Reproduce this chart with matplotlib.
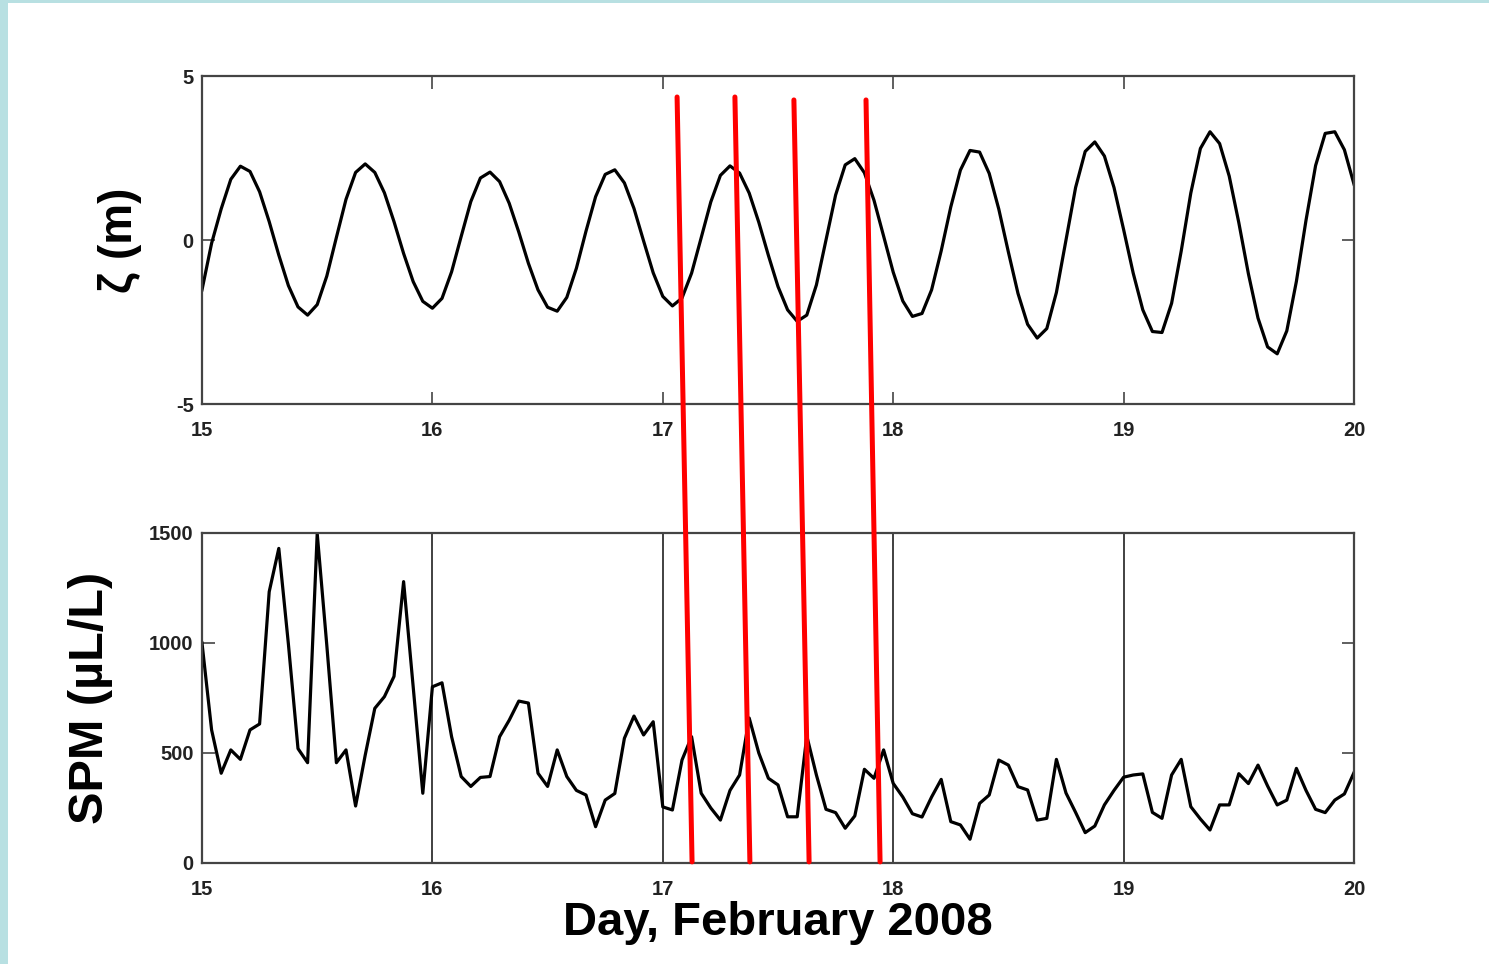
import matplotlib
matplotlib.use("Agg")
import matplotlib.pyplot as plt
from matplotlib.patches import ConnectionPatch, Rectangle
import numpy as np

# ---------------- data ----------------
start_day = 15.0
step_day = 1.0 / 24.0  # hourly samples

zeta = [
    -1.52, -0.10, 0.95, 1.85, 2.25, 2.09, 1.47, 0.56, -0.46, -1.39,
    -2.04, -2.29, -1.97, -1.10, 0.08, 1.24, 2.06, 2.32, 2.06, 1.44,
    0.56, -0.41, -1.27, -1.87, -2.08, -1.78, -0.97, 0.11, 1.17, 1.89,
    2.07, 1.78, 1.12, 0.24, -0.71, -1.52, -2.05, -2.17, -1.75, -0.86,
    0.27, 1.32, 2.00, 2.14, 1.74, 0.96, -0.03, -1.00, -1.72, -2.01,
    -1.77, -1.01, 0.07, 1.16, 1.97, 2.26, 2.04, 1.43, 0.54, -0.47,
    -1.42, -2.13, -2.48, -2.29, -1.37, 0.00, 1.37, 2.29, 2.48, 2.05,
    1.21, 0.12, -0.98, -1.86, -2.33, -2.24, -1.52, -0.33, 1.01, 2.13,
    2.73, 2.68, 2.03, 0.94, -0.37, -1.63, -2.57, -2.99, -2.70, -1.60,
    0.00, 1.60, 2.70, 2.99, 2.56, 1.60, 0.32, -1.01, -2.13, -2.79,
    -2.82, -1.93, -0.34, 1.43, 2.79, 3.30, 2.94, 1.95, 0.53, -1.03,
    -2.38, -3.26, -3.47, -2.77, -1.26, 0.60, 2.27, 3.25, 3.30, 2.75,
    1.70,
]

spm = [
    1000, 605, 408, 514, 471, 605, 632, 1233, 1430, 995,
    520, 456, 1498, 990, 456, 514, 259, 490, 703, 756,
    848, 1279, 800, 317, 801, 819, 574, 393, 348, 389,
    393, 574, 649, 736, 727, 408, 348, 514, 393, 330,
    309, 165, 286, 316, 567, 668, 582, 642, 255, 241,
    468, 574, 317, 250, 195, 330, 400, 659, 500, 385,
    355, 210, 210, 577, 400, 244, 229, 158, 214, 426,
    385, 514, 362, 300, 224, 209, 300, 380, 188, 173,
    108, 271, 309, 468, 445, 347, 332, 195, 203, 471,
    318, 230, 138, 168, 264, 330, 390, 400, 405, 230,
    203, 400, 471, 256, 200, 150, 264, 264, 406, 361,
    445, 350, 264, 286, 430, 330, 244, 229, 286, 314,
    411,
]

days = start_day + step_day * np.arange(len(zeta))

x_ticks = [15, 16, 17, 18, 19, 20]
zeta_ticks = [-5, 0, 5]
spm_ticks = [0, 500, 1000, 1500]

# red marker lines: (day, value) at top in the zeta panel -> (day, value) at bottom in SPM panel
red_top_day = [17.062, 17.313, 17.569, 17.882]
red_top_zeta = [4.36, 4.36, 4.27, 4.27]
red_bot_day = [17.127, 17.378, 17.635, 17.943]
red_bot_spm = [5, 5, 5, 5]

# ---------------- figure ----------------
plt.rcParams['axes.unicode_minus'] = False
plt.rcParams['font.family'] = ['Liberation Sans', 'DejaVu Sans']

fig = plt.figure(figsize=(14.89, 9.64), dpi=100)
fig.patch.set_facecolor('white')

# light blue frame strips
fig.add_artist(Rectangle((0, 0), 8 / 1489, 1, transform=fig.transFigure,
                         facecolor='#B8E0E2', edgecolor='none', zorder=0))
fig.add_artist(Rectangle((0, 1 - 3 / 964), 1, 3 / 964, transform=fig.transFigure,
                         facecolor='#B8E0E2', edgecolor='none', zorder=0))

left = 202 / 1489
width = (1354 - 202) / 1489
ax1 = fig.add_axes([left, 1 - 404 / 964, width, (404 - 76) / 964])
ax2 = fig.add_axes([left, 1 - 863 / 964, width, (863 - 533) / 964])

spine_col = '#444444'
tick_font = dict(family=['Liberation Sans', 'DejaVu Sans'], weight='bold', size=14.5)

for ax in (ax1, ax2):
    ax.set_xlim(15, 20)
    ax.set_xticks(x_ticks)
    ax.set_xticklabels([str(t) for t in x_ticks], **tick_font)
    for s in ax.spines.values():
        s.set_color(spine_col)
        s.set_linewidth(1.6)
    ax.tick_params(direction='in', length=9, width=1.2, color=spine_col,
                   top=True, right=True, labelcolor='#222222')
    ax.tick_params(axis='x', pad=12)
    ax.tick_params(axis='y', pad=6)

ax1.plot(days, zeta, color='black', lw=2.3)
ax1.set_ylim(-5, 5)
ax1.set_yticks(zeta_ticks)
ax1.set_yticklabels([str(t) for t in zeta_ticks], **tick_font)
ax1.set_ylabel('ζ (m)', fontsize=33, fontweight='bold', labelpad=24)

ax2.plot(days, spm, color='black', lw=2.3)
ax2.set_ylim(0, 1500)
ax2.set_yticks(spm_ticks)
ax2.set_yticklabels([str(t) for t in spm_ticks], **tick_font)
ax2.grid(axis='x', color='#333333', lw=1.3)
ax2.set_ylabel('SPM (µL/L)', fontsize=35, fontweight='bold', labelpad=26)
ax2.set_xlabel('Day, February 2008', fontsize=34, fontweight='bold', labelpad=2)

for td, tz, bd, bs in zip(red_top_day, red_top_zeta, red_bot_day, red_bot_spm):
    con = ConnectionPatch(xyA=(td, tz), coordsA='data', axesA=ax1,
                          xyB=(bd, bs), coordsB='data', axesB=ax2,
                          color='#FF0000', lw=3.6, zorder=10)
    fig.add_artist(con)

fig.savefig('out.png', dpi=100, facecolor='white')
